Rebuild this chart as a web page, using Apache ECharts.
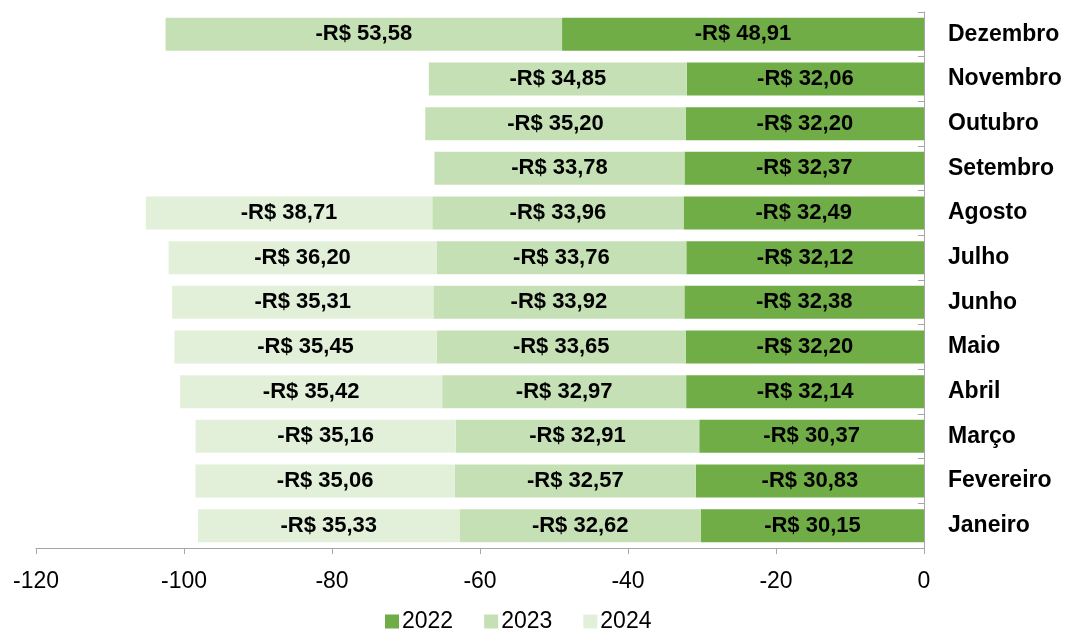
<!DOCTYPE html>
<html><head><meta charset="utf-8">
<script src="https://cdn.jsdelivr.net/npm/echarts@6/dist/echarts.min.js"></script>
<style>html,body{margin:0;padding:0;background:#fff}#c{width:1082px;height:630px}</style>
</head><body><div id="c"></div>
<script>
const categories = ['Janeiro','Fevereiro','Março','Abril','Maio','Junho','Julho','Agosto','Setembro','Outubro','Novembro','Dezembro'];
const v2022 = [-30.15,-30.83,-30.37,-32.14,-32.20,-32.38,-32.12,-32.49,-32.37,-32.20,-32.06,-48.91];
const v2023 = [-32.62,-32.57,-32.91,-32.97,-33.65,-33.92,-33.76,-33.96,-33.78,-35.20,-34.85,-53.58];
const v2024 = [-35.33,-35.06,-35.16,-35.42,-35.45,-35.31,-36.20,-38.71,null,null,null,null];
const xTicks = {min:-120, max:0, interval:20};

const F = 'Arial, "Liberation Sans", sans-serif';
function fmt(p){ if(p.value==null) return ''; return '-R$ ' + Math.abs(p.value).toFixed(2).replace('.', ','); }
function ser(name, data, color){
  return {name, type:'bar', stack:'t', data, barWidth:33,
    itemStyle:{color},
    label:{show:true, position:'inside', formatter:fmt, color:'#000', fontWeight:'bold', fontSize:22, fontFamily:F}};
}
const chart = echarts.init(document.getElementById('c'));
chart.setOption({
  animation:false,
  grid:{left:36, right:158, top:12, bottom:82, containLabel:false},
  legend:{left:380, top:605, itemWidth:14, itemHeight:14, itemGap:31, icon:'rect',
    textStyle:{fontSize:23, fontFamily:F, color:'#000', padding:[0,0,0,-2]}, data:['2022','2023','2024']},
  xAxis:{type:'value', min:xTicks.min, max:xTicks.max, interval:xTicks.interval,
    splitLine:{show:false},
    axisLine:{show:true, lineStyle:{color:'#A6A6A6'}},
    axisTick:{show:true, length:6, lineStyle:{color:'#A6A6A6'}},
    axisLabel:{fontSize:23, fontFamily:F, color:'#000', margin:22}},
  yAxis:{type:'category', data:categories, position:'right',
    axisLine:{show:true, lineStyle:{color:'#A6A6A6'}},
    axisTick:{show:true, inside:true, length:6, lineStyle:{color:'#A6A6A6'}},
    axisLabel:{fontSize:23, fontWeight:'bold', fontFamily:F, color:'#000', margin:24, align:'left'}},
  series:[ser('2022', v2022, '#70AD47'), ser('2023', v2023, '#C5E0B4'), ser('2024', v2024, '#E2F0D9')]
});
</script></body></html>
